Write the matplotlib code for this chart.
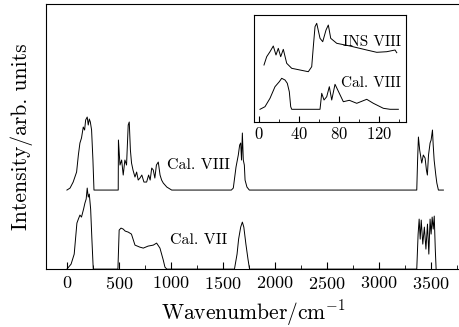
import matplotlib
matplotlib.use("Agg")
import matplotlib.pyplot as plt
from matplotlib.ticker import MultipleLocator

plt.rcParams['font.family'] = 'cmr10'
plt.rcParams['mathtext.fontset'] = 'cm'
plt.rcParams['axes.formatter.use_mathtext'] = True

# main panel, wavenumber in cm^-1, intensity in arbitrary units
vii_wn = [0, 40, 70, 96, 110, 125, 140, 160, 173, 185, 195, 205, 215, 228, 240, 253,
          490, 502, 520, 541, 560, 589, 620, 654, 700, 734, 780, 830, 862, 894, 926, 942, 960,
          1610, 1635, 1650, 1670, 1686, 1700, 1720, 1740, 1755,
          3362, 3375, 3385, 3395, 3405, 3420, 3435, 3450, 3465, 3478, 3490, 3500, 3510,
          3520, 3530, 3540, 3548]
vii_int = [0, 5, 15, 46, 50, 54, 52, 60, 66, 70, 81, 72, 75, 60, 30, 0,
           0, 39, 41, 40, 38, 37, 35, 24, 22, 21, 23, 24, 26, 21, 9, 2, 0,
           0, 15, 30, 42, 47, 42, 25, 10, 0,
           0, 35, 50, 30, 49, 25, 42, 20, 45, 15, 50, 35, 52,
           40, 53, 20, 0]

viii_wn = [0, 30, 60, 93, 110, 125, 140, 157, 170, 180, 195, 205, 215, 225, 237, 250, 260,
           493, 495, 510, 526, 541, 557, 573, 589, 599, 610, 621, 635, 654, 670, 685, 702,
           720, 740, 766, 785, 800, 815, 830, 845, 860, 878, 895, 910, 926, 960, 1007,
           1580, 1599, 1625, 1647, 1660, 1670, 1678, 1686, 1695, 1705, 1712, 1730, 1753,
           3362, 3370, 3378, 3390, 3410, 3425, 3442, 3455, 3464, 3475, 3490, 3500, 3513,
           3520, 3529, 3545, 3555, 3570, 3618]
viii_int = [0, 2, 8, 18, 35, 47, 52, 63, 60, 70, 73, 65, 71, 68, 60, 30, 0,
            0, 50, 25, 30, 15, 30, 25, 65, 68, 40, 27, 20, 13, 18, 10, 12,
            15, 8, 8, 15, 10, 22, 20, 12, 25, 28, 15, 10, 7, 3, 0,
            0, 2, 23, 35, 45, 47, 30, 57, 30, 25, 10, 3, 0,
            0, 30, 53, 40, 27, 35, 32, 20, 15, 35, 47, 50, 60,
            45, 30, 15, 7, 0, 0]
viii_offset = 79

# inset, low-frequency region
ins_x = [4.7, 7.4, 10.7, 14, 16.7, 19, 21.4, 24, 27.4, 32.4, 40.7, 49, 52.4, 54, 55.7,
         57.4, 60.7, 63.4, 66.7, 69, 71.4, 77.4, 90.7, 107.4, 117.4, 127.4, 135.7, 137.4]
ins_y = [57.3, 65.6, 70.6, 76.3, 67.3, 74, 65.6, 73, 59, 54, 52.3, 50.6, 55.6, 75.6, 95.6,
         99, 84, 80.6, 92.3, 97.3, 84, 79, 76.3, 72.3, 70, 70.6, 72.3, 69.6]
cal_x = [0.7, 5.7, 10.7, 15.7, 20, 22.4, 25.7, 28, 30, 31.4, 32.4, 60.7, 62.4, 64.7, 67.4,
         70, 72.4, 75.7, 84, 90, 97.4, 107.4, 114, 124, 130.7, 139]
cal_y = [13, 15.6, 24, 35.6, 40.6, 44, 42.3, 39, 30.6, 15.6, 13, 13, 29, 22.3, 25.6,
         35.6, 22.3, 38, 20.6, 22, 19, 23, 19, 14, 13, 13]

fig = plt.figure(figsize=(4.59, 3.27), dpi=100)
ax = fig.add_axes([0.100, 0.177, 0.905, 0.811])

ax.plot(vii_wn, vii_int, color='black', lw=0.7)
ax.plot(viii_wn, [v + viii_offset for v in viii_int], color='black', lw=0.7)
ax.text(990, 29, 'Cal. VII', fontsize=11.5, va='center')
ax.text(960, 104, 'Cal. VIII', fontsize=11.5, va='center')

ax.set_xlim(-202, 3790)
ax.set_ylim(0, 265)
ax.set_yticks([])
ax.spines['right'].set_visible(False)
ax.xaxis.set_major_locator(MultipleLocator(500))
ax.xaxis.set_minor_locator(MultipleLocator(250))
ax.tick_params(axis='x', which='major', direction='in', length=5, labelsize=13, pad=4)
ax.tick_params(axis='x', which='minor', direction='in', length=3)
ax.set_xlabel('Wavenumber/cm$^{-1}$', fontsize=15.5, labelpad=5)
ax.set_ylabel('Intensity/arb. units', fontsize=15.5, labelpad=9)

ins = fig.add_axes([0.554, 0.626, 0.330, 0.329])
ins.plot(ins_x, ins_y, color='black', lw=0.7)
ins.plot(cal_x, cal_y, color='black', lw=0.7)
ins.text(84, 80, 'INS VIII', fontsize=11, va='center')
ins.text(82, 39, 'Cal. VIII', fontsize=11, va='center')
ins.set_xlim(-5, 146.4)
ins.set_ylim(0, 107.6)
ins.set_yticks([])
ins.xaxis.set_major_locator(MultipleLocator(40))
ins.xaxis.set_minor_locator(MultipleLocator(20))
ins.tick_params(axis='x', which='major', direction='in', length=4, labelsize=12, pad=3)
ins.tick_params(axis='x', which='minor', direction='in', length=2)

fig.savefig('out.png', dpi=100)
